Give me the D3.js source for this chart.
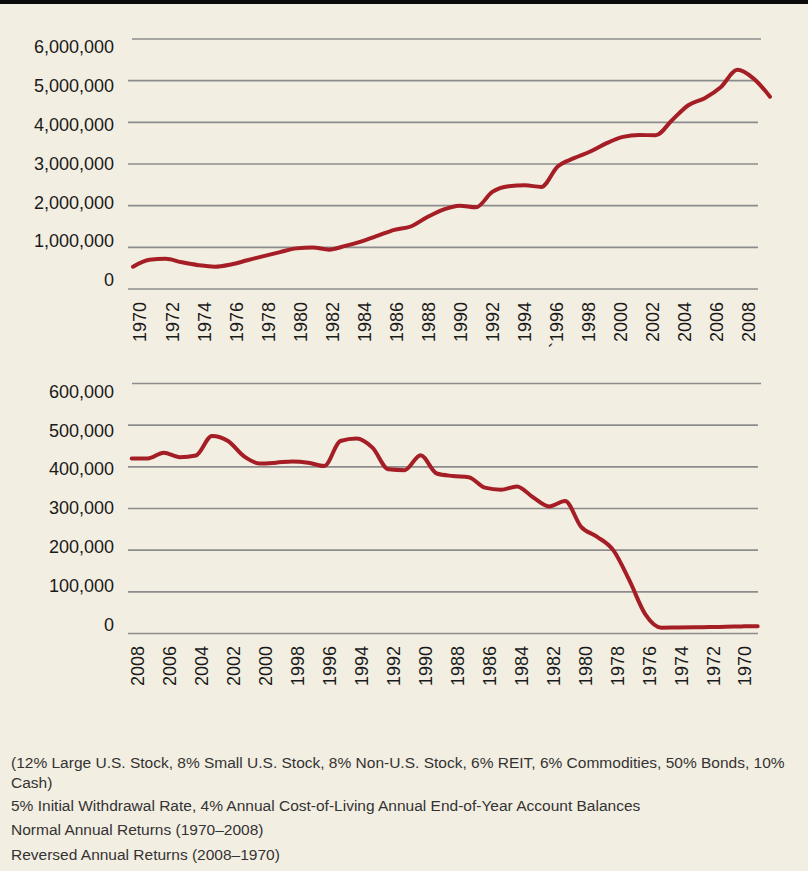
<!DOCTYPE html>
<html lang="en">
<head>
<meta charset="utf-8">
<title>Account balances, normal vs reversed returns</title>
<script src="https://cdn.jsdelivr.net/npm/d3@7"></script>
<style>
  body { margin: 0; background: #f3eee2; }
  svg { display: block; }
</style>
</head>
<body>
<script>
// tick labels
var topYearLabels = ["1970","1972","1974","1976","1978","1980","1982","1984","1986","1988","1990","1992","1994","`1996","1998","2000","2002","2004","2006","2008"];
var bottomYearLabels = ["2008","2006","2004","2002","2000","1998","1996","1994","1992","1990","1988","1986","1984","1982","1980","1978","1976","1974","1972","1970"];
var topTicks = [0, 1000000, 2000000, 3000000, 4000000, 5000000, 6000000];
var bottomTicks = [0, 100000, 200000, 300000, 400000, 500000, 600000];

// end-of-year balances, normal order 1970-2008
var normalBalances = [536000, 700000, 725000, 640000, 572000, 536000, 590000, 690000, 790000, 885000,
  975000, 995000, 945000, 1035000, 1145000, 1280000, 1420000, 1500000, 1720000, 1905000,
  2000000, 1960000, 2330000, 2465000, 2488000, 2450000, 2940000, 3140000, 3300000, 3500000,
  3650000, 3696000, 3690000, 4050000, 4410000, 4580000, 4850000, 5260000, 5050000, 4616000];

// end-of-year balances, reversed order 2008-1970
var reversedBalances = [420000, 420000, 434000, 423000, 427000, 474000, 462000, 425000, 408000, 410000,
  413000, 410000, 402000, 462000, 468000, 446000, 394000, 392000, 428000, 384000,
  378000, 375000, 350000, 345000, 353000, 327000, 305000, 318000, 256000, 232000,
  200000, 128000, 46000, 14000, 14500, 15000, 15500, 16000, 17000, 17600];

var notes = [
  "(12% Large U.S. Stock, 8% Small U.S. Stock, 8% Non-U.S. Stock, 6% REIT, 6% Commodities, 50% Bonds, 10%",
  "Cash)",
  "5% Initial Withdrawal Rate, 4% Annual Cost-of-Living Annual End-of-Year Account Balances",
  "Normal Annual Returns (1970\u20132008)",
  "Reversed Annual Returns (2008\u20131970)"
];

var w = 808, h = 871;
var font = "'Liberation Sans', Arial, Helvetica, sans-serif";

var svg = d3.select("body").append("svg")
  .attr("width", w)
  .attr("height", h);

svg.append("rect").attr("width", w).attr("height", h).attr("fill", "#f3eee2");
// black strip at the very top
svg.append("rect").attr("width", w).attr("height", 4).attr("fill", "#0a0a0a");

function drawPanel(cfg) {
  var g = svg.append("g");

  var y = d3.scaleLinear().domain([0, cfg.max]).range([cfg.y0, cfg.y1]);
  // the labels in the original sit a little tighter than the grid
  var yLab = d3.scaleLinear().domain([0, cfg.max]).range([cfg.y0 - 9, cfg.y1 + 8]);

  // gridlines
  g.selectAll("line.grid")
    .data(cfg.ticks)
    .enter().append("line")
    .attr("class", "grid")
    .attr("x1", function(d, i){ return i == cfg.ticks.length - 1 ? 132 : 128; })
    .attr("x2", function(d, i){ return i == cfg.ticks.length - 1 ? 761 : 758; })
    .attr("y1", function(d){ return y(d); })
    .attr("y2", function(d){ return y(d); })
    .attr("stroke", "#8c8c8c")
    .attr("stroke-width", 1.6);

  // y labels via axis
  var yAxis = d3.axisLeft(yLab)
    .tickValues(cfg.ticks)
    .tickFormat(d3.format(","))
    .tickSize(0)
    .tickPadding(0);
  var ax = g.append("g")
    .attr("transform", "translate(114,0)")
    .call(yAxis);
  ax.select(".domain").remove();
  ax.selectAll("text")
    .attr("font-family", font)
    .attr("font-size", 18)
    .attr("fill", "#1a1a1a");

  // rotated year labels
  var xLab = d3.scaleLinear().domain([0, cfg.labels.length - 1]).range(cfg.labelRange);
  g.selectAll("text.year")
    .data(cfg.labels)
    .enter().append("text")
    .attr("class", "year")
    .attr("transform", function(d, i){ return "translate(" + xLab(i) + "," + cfg.labelTop + ") rotate(-90)"; })
    .attr("text-anchor", "end")
    .attr("dy", "0.36em")
    .attr("font-family", font)
    .attr("font-size", 18)
    .attr("fill", "#1a1a1a")
    .text(function(d){ return d; });

  // balance line
  var x = d3.scaleLinear().domain([0, cfg.values.length - 1]).range(cfg.lineRange);
  var line = d3.line()
    .x(function(d, i){ return x(i); })
    .y(function(d){ return y(d); })
    .curve(d3.curveMonotoneX);
  g.append("path")
    .datum(cfg.values)
    .attr("d", line)
    .attr("fill", "none")
    .attr("stroke", "#a51d25")
    .attr("stroke-width", 4)
    .attr("stroke-linejoin", "round")
    .attr("stroke-linecap", "round");
}

drawPanel({
  max: 6000000, ticks: topTicks, y0: 289, y1: 39,
  labels: topYearLabels, labelRange: [140, 748.5], labelTop: 302,
  values: normalBalances, lineRange: [133, 770]
});

drawPanel({
  max: 600000, ticks: bottomTicks, y0: 633.5, y1: 383.5,
  labels: bottomYearLabels, labelRange: [137.5, 745], labelTop: 646,
  values: reversedBalances, lineRange: [131.7, 757.7]
});

// footnotes
var noteY = [768, 788, 811, 835, 860];
svg.selectAll("text.note")
  .data(notes)
  .enter().append("text")
  .attr("class", "note")
  .attr("x", 11)
  .attr("y", function(d, i){ return noteY[i]; })
  .attr("font-family", font)
  .attr("font-size", 15.5)
  .attr("fill", "#333")
  .text(function(d){ return d; });
</script>
</body>
</html>
